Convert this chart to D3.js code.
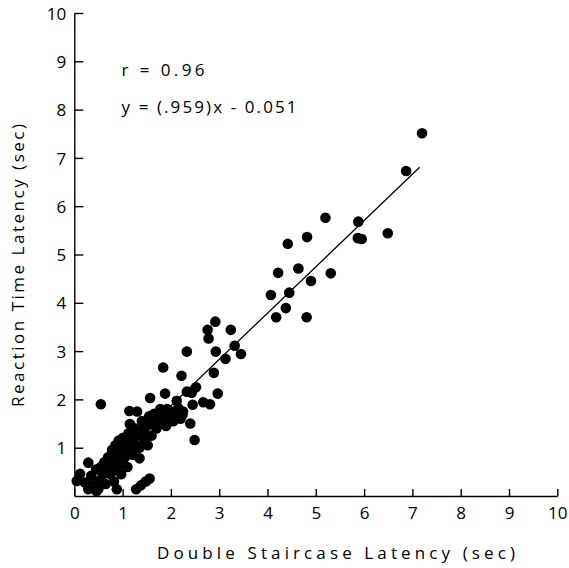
<!DOCTYPE html>
<html>
<head>
<meta charset="utf-8">
<script src="https://cdn.jsdelivr.net/npm/d3@7"></script>
<style>
  html, body { margin: 0; padding: 0; background: #fff; }
  svg text { font-family: "Open Sans", "Liberation Sans", sans-serif; font-weight: 400; fill: #000; }
</style>
</head>
<body>
<svg id="chart" width="569" height="568"></svg>
<script>
// Double staircase latency (sec) for each trial
const staircase = [
  7.20, 6.87, 6.49, 5.20, 5.88, 5.87, 5.95, 4.82, 4.42, 4.22, 4.64, 5.31, 4.90, 4.07, 4.45, 4.38, 4.18, 4.81,
  2.92, 2.76, 2.78, 3.24, 3.32, 3.45, 3.13, 2.93, 2.33, 2.89, 2.22, 2.52, 2.33, 2.43, 2.97, 2.45, 2.67, 2.81,
  2.24, 2.40, 2.49, 1.84, 1.88, 1.57, 2.12, 1.14, 1.30, 1.15, 1.35, 1.28, 1.38, 1.48, 1.56, 0.55, 0.29, 0.12,
  0.05, 0.29, 0.46, 0.88,
  0.22, 0.35, 0.38, 0.45, 0.52, 0.55, 0.50, 0.60, 0.65, 0.68, 0.70, 0.62, 0.75, 0.78, 0.80, 0.82, 0.85, 0.85,
  0.90, 0.92, 0.95, 0.97, 1.00, 1.00, 1.05, 1.08, 1.10, 1.12, 1.15, 1.20, 1.22, 1.25, 1.28, 1.30, 1.35, 1.38,
  1.40, 1.45, 1.45, 1.50, 1.52, 1.55, 1.60, 1.60, 1.65, 1.70, 1.72, 1.78, 1.80, 1.85, 1.90, 1.92, 1.98, 2.00,
  2.05, 2.10, 2.15, 2.20, 2.25
];
// Reaction time latency (sec) for the same trials
const reaction = [
  7.51, 6.73, 5.44, 5.76, 5.68, 5.34, 5.32, 5.36, 5.22, 4.62, 4.71, 4.61, 4.45, 4.16, 4.21, 3.89, 3.70, 3.70,
  3.61, 3.44, 3.26, 3.44, 3.11, 2.94, 2.84, 2.99, 2.99, 2.55, 2.49, 2.25, 2.16, 2.14, 2.12, 1.89, 1.94, 1.90,
  1.68, 1.50, 1.16, 2.66, 2.12, 2.03, 1.97, 1.76, 1.75, 1.49, 0.78, 0.14, 0.22, 0.30, 0.36, 1.90, 0.69, 0.46,
  0.31, 0.14, 0.10, 0.14,
  0.28, 0.42, 0.22, 0.55, 0.30, 0.60, 0.15, 0.45, 0.25, 0.60, 0.80, 0.70, 0.45, 0.95, 0.70, 0.30, 1.05, 0.55,
  0.85, 1.15, 0.65, 0.45, 1.00, 1.20, 0.80, 1.10, 0.60, 1.30, 0.95, 1.15, 0.85, 1.40, 1.05, 1.25, 1.00, 1.35,
  1.55, 1.15, 1.30, 1.45, 1.05, 1.65, 1.25, 1.50, 1.70, 1.40, 1.60, 1.80, 1.50, 1.65, 1.45, 1.80, 1.60, 1.75,
  1.55, 1.70, 1.82, 1.60, 1.75
];

const xTicks = [0, 1, 2, 3, 4, 5, 6, 7, 8, 9, 10];
const yTicks = [1, 2, 3, 4, 5, 6, 7, 8, 9, 10];

// Least-squares fit reported on the chart
const fitSlope = 0.959;
const fitIntercept = -0.051;
const fitRange = [0.2, 7.15];
const statLines = ["r = 0.96", "y = (.959)x - 0.051"];

const xTitle = "Double Staircase Latency (sec)";
const yTitle = "Reaction Time Latency (sec)";

const svg = d3.select("#chart");
const x = d3.scaleLinear().domain([0, 10]).range([74.3, 557.3]);
const y = d3.scaleLinear().domain([0, 10]).range([496, 13]);

const fontSize = 17;
const fontStack = '"Open Sans", "Liberation Sans", sans-serif';

// y axis with ticks pointing into the plot
const yAxis = svg.append("g")
  .attr("transform", `translate(${x(0)},0)`)
  .call(d3.axisLeft(y).tickValues(yTicks).tickSize(-9).tickSizeOuter(0).tickPadding(7).tickFormat(d3.format("d")));
yAxis.selectAll(".tick text").attr("font-size", fontSize).attr("x", -8).attr("dy", "0.36em");

// x axis with ticks pointing up
const xAxis = svg.append("g")
  .attr("transform", `translate(0,${y(0)})`)
  .call(d3.axisBottom(x).tickValues(xTicks).tickSize(-7).tickSizeOuter(0).tickFormat(d3.format("d")));
xAxis.selectAll(".tick text").attr("font-size", fontSize).attr("y", 23).attr("dy", 0);

svg.selectAll(".domain, .tick line").attr("stroke", "#000").attr("stroke-width", 1.4);
svg.selectAll(".tick text").attr("fill", "#000")
  .style("font-family", fontStack).style("font-weight", 400);

// regression line
const line = d3.line().x(d => x(d)).y(d => y(fitSlope * d + fitIntercept));
svg.append("path")
  .datum(fitRange)
  .attr("d", line)
  .attr("fill", "none")
  .attr("stroke", "#000")
  .attr("stroke-width", 1.3);

// trial points
svg.append("g")
  .selectAll("circle")
  .data(d3.range(staircase.length))
  .join("circle")
  .attr("cx", i => x(staircase[i]))
  .attr("cy", i => y(reaction[i]))
  .attr("r", 5.3)
  .attr("fill", "#000");

// statistics
svg.append("text").attr("x", 121.5).attr("y", 76).attr("font-size", fontSize)
  .attr("textLength", 83).attr("lengthAdjust", "spacing").text(statLines[0]);
svg.append("text").attr("x", 121.5).attr("y", 113).attr("font-size", fontSize)
  .attr("textLength", 175).attr("lengthAdjust", "spacing").text(statLines[1]);

// axis titles
svg.append("text").attr("x", 157).attr("y", 559).attr("font-size", fontSize)
  .attr("textLength", 358).attr("lengthAdjust", "spacing").text(xTitle);
svg.append("text")
  .attr("transform", "translate(24,407) rotate(-90)")
  .attr("font-size", fontSize)
  .attr("textLength", 283).attr("lengthAdjust", "spacing").text(yTitle);
</script>
</body>
</html>
